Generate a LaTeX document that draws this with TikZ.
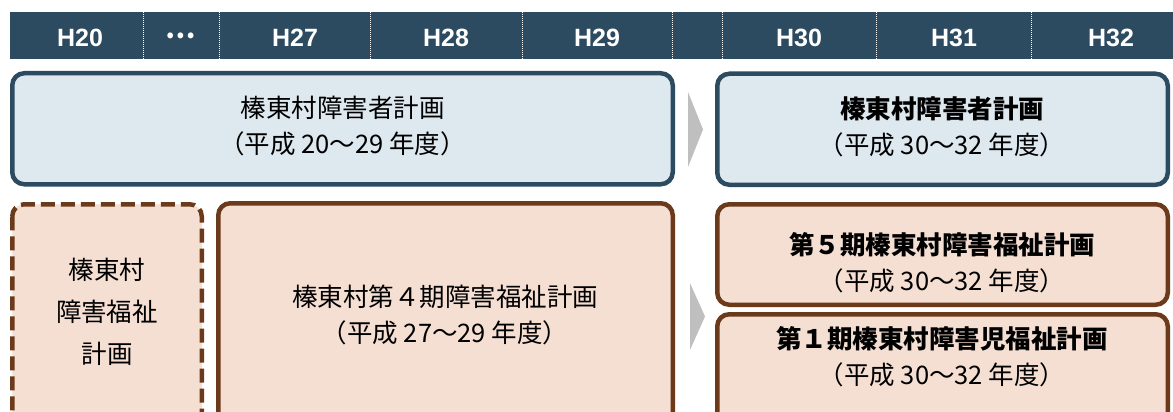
\documentclass[tikz,border=0pt]{standalone}
\usepackage{fontspec}
\newfontfamily\jp{Noto Sans CJK JP}
\newfontfamily\hdr{Liberation Sans}
\definecolor{navy}{HTML}{2C4A60}
\definecolor{bluefill}{HTML}{DEE8EF}
\definecolor{brownline}{HTML}{6B3A1A}
\definecolor{peach}{HTML}{F5DFD3}
\definecolor{arrowgray}{HTML}{BFBFBF}
\tikzset{
  hbar/.style={fill=navy},
  divider/.style={white, line width=0.9pt, dash pattern=on 1pt off 1pt},
  hlab/.style={font=\hdr\bfseries\fontsize{25}{25}\selectfont, text=white, inner sep=0pt},
  planbox/.style={draw=navy, fill=bluefill, line width=4.5pt, rounded corners=12pt},
  welbox/.style={draw=brownline, fill=peach, line width=4.5pt, rounded corners=12pt},
  weldash/.style={welbox, dash pattern=on 14pt off 6pt},
  chevron/.style={fill=arrowgray},
  txt/.style={font=\jp\fontsize{25.5}{36}\selectfont, align=center, text=black, inner sep=0pt},
  txtwide/.style={font=\jp\fontsize{25.5}{42}\selectfont, align=center, text=black, inner sep=0pt},
}
\begin{document}
\begin{tikzpicture}[x=1pt,y=-1pt]
\useasboundingbox (0,0) rectangle (1173,412);
\clip (0,0) rectangle (1173,412);
% header bar
\path[hbar] (10,12.5) rectangle (1195,59);
\foreach \xx in {143.5,219,370,522,672,722,876,1031}{
  \draw[divider] (\xx,12.5) -- (\xx,59);
}
\node[hlab] (h20) at (80,37.5) {H20};
\node[font=\jp\bfseries\fontsize{27}{27}\selectfont, text=white, inner sep=0pt] (hdots) at (181,36) {…};
\node[hlab] (h27) at (295,37.5) {H27};
\node[hlab] (h28) at (446,37.5) {H28};
\node[hlab] (h29) at (597,37.5) {H29};
\node[hlab] (h30) at (799,37.5) {H30};
\node[hlab] (h31) at (954,37.5) {H31};
\node[hlab] (h32) at (1111,37.5) {H32};
% upper row
\path[planbox] (12.25,73.25) rectangle (672.75,184.25);
\path[planbox] (717.25,73.75) rectangle (1167.75,184.75);
\fill[chevron] (688,92) -- (703,129.5) -- (688,167) -- cycle;
\node[txt] (oldplan) at (342.5,126) {榛東村障害者計画\\（平成 20～29 年度）};
\node[txt] (newplan) at (942,126.5) {{\bfseries 榛東村障害者計画}\\（平成 30～32 年度）};
% lower row
\path[weldash] (12.25,204.25) rectangle (201.75,440);
\path[welbox] (218.25,203.25) rectangle (672.75,440);
\path[welbox] (717.25,204.25) rectangle (1167.75,304.75);
\path[welbox] (717.25,314.25) rectangle (1167.75,440);
\fill[chevron] (690,283) -- (705,316.5) -- (690,350) -- cycle;
\node[txtwide] (oldwel) at (107,312) {榛東村\\障害福祉\\計画};
\node[txt] (wel4) at (445,315) {榛東村第４期障害福祉計画\\（平成 27～29 年度）};
\node[txt] (wel5) at (942,262.5) {{\bfseries 第５期榛東村障害福祉計画}\\（平成 30～32 年度）};
\node[txt] (child1) at (942,356.5) {{\bfseries 第１期榛東村障害児福祉計画}\\（平成 30～32 年度）};
\end{tikzpicture}
\end{document}
